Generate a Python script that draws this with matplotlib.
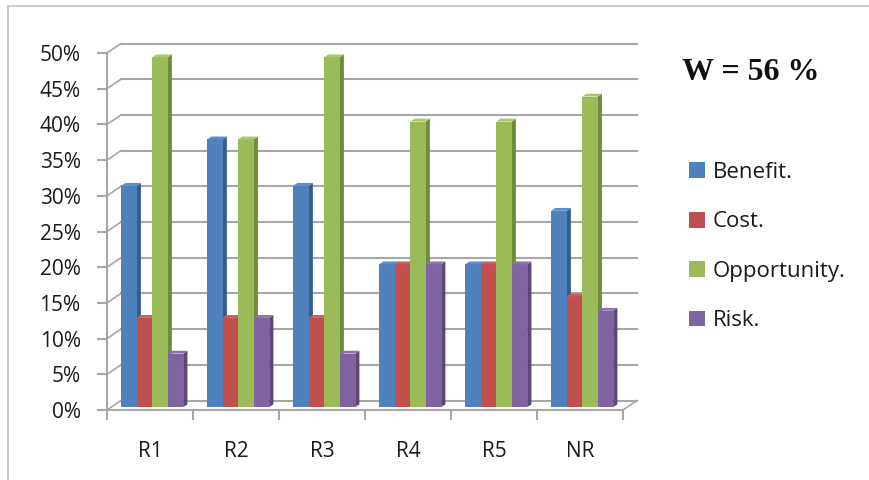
import matplotlib.pyplot as plt
from matplotlib.lines import Line2D
from matplotlib.patches import Patch

# Share of each criterion per alternative (%)
categories = ['R1', 'R2', 'R3', 'R4', 'R5', 'NR']
benefit = [31, 37.5, 31, 20, 20, 27.5]
cost = [12.5, 12.5, 12.5, 20, 20, 15.5]
opportunity = [49, 37.5, 49, 40, 40, 43.5]
risk = [7.5, 12.5, 7.5, 20, 20, 13.5]
series_names = ['Benefit.', 'Cost.', 'Opportunity.', 'Risk.']
y_ticks = [0, 5, 10, 15, 20, 25, 30, 35, 40, 45, 50]
weight_label = 'W = 56 %'

front_colors = ['#4f81bd', '#c0504d', '#9bbb59', '#8064a2']
side_colors = ['#385d8a', '#8c3836', '#6f8a3c', '#5c4776']
top_colors = ['#5a8ccb', '#cd5c59', '#a8c86a', '#8d72ae']
grid_color = '#a6a6a6'
text_color = '#1a1a1a'

W, H = 869, 480
fig = plt.figure(figsize=(W / 100, H / 100), dpi=100)
fig.patch.set_facecolor('white')

# front plot area in pixels: x 107..623, y 410 (0%) .. 53 (50%)
ax = fig.add_axes([107 / W, 1 - 410 / H, 516 / W, 357 / H])
ax.set_xlim(0, len(categories))
ax.set_ylim(0, 50)
ax.set_facecolor('none')

# depth of the fake 3D box, in data units
px_x = len(categories) / 516
px_y = 50 / 357
dx = 14 * px_x
dy = 9.5 * px_y

# back wall gridlines and the slanted connectors from the front axis
for v in y_ticks:
    ax.add_line(Line2D([dx, len(categories) + dx], [v + dy, v + dy],
                       color=grid_color, lw=1.5, clip_on=False, zorder=1))
    ax.add_line(Line2D([0, dx], [v, v + dy],
                       color=grid_color, lw=1.2, clip_on=False, zorder=1))
# right edge of the floor
ax.add_line(Line2D([len(categories), len(categories) + dx], [0, dy],
                   color=grid_color, lw=1.2, clip_on=False, zorder=1))

# bars: front face, right side and top
bar_w = 15.5 * px_x
d0, depth = 0.3, 0.3
all_series = [benefit, cost, opportunity, risk]
for i, cat in enumerate(categories):
    left0 = i + 0.5 - 2 * bar_w + d0 * dx - 2 * px_x
    base = d0 * dy
    for s, vals in enumerate(all_series):
        xl = left0 + s * bar_w
        xr = xl + bar_w
        top = vals[i] + base
        ox, oy = depth * dx, depth * dy
        ax.fill([xr, xr, xr + ox, xr + ox], [base, top, top + oy, base + oy],
                color=side_colors[s], lw=0, clip_on=False, zorder=3)
        ax.fill([xl, xr, xr, xl], [base, base, top, top],
                color=front_colors[s], lw=0, clip_on=False, zorder=3)
        ax.fill([xl, xr, xr + ox, xl + ox], [top, top, top + oy, top + oy],
                color=top_colors[s], lw=0, clip_on=False, zorder=3)

# front axes
for side in ['top', 'right']:
    ax.spines[side].set_visible(False)
for side in ['left', 'bottom']:
    ax.spines[side].set_color(grid_color)
    ax.spines[side].set_linewidth(1.5)

ax.set_yticks(y_ticks)
ax.set_yticklabels([f'{v}%' for v in y_ticks])
ax.tick_params(axis='y', length=7, width=1.5, color=grid_color, pad=12,
               labelsize=15, labelcolor=text_color)

ax.set_xticks(range(len(categories) + 1))
ax.set_xticklabels([])
ax.set_xticks([i + 0.5 for i in range(len(categories))], minor=True)
ax.set_xticklabels(categories, minor=True)
ax.tick_params(axis='x', which='major', length=7, width=1.5, color=grid_color)
ax.tick_params(axis='x', which='minor', length=0, pad=22,
               labelsize=15, labelcolor=text_color)

for lbl in ax.get_xticklabels(minor=True) + ax.get_yticklabels():
    lbl.set_fontfamily('Open Sans')

# legend
handles = [Patch(facecolor=c, edgecolor='none') for c in front_colors]
fig.legend(handles, series_names, loc='upper left',
           bbox_to_anchor=(689 / W, 1 - 162 / H), frameon=False,
           prop={'family': 'Open Sans', 'size': 16}, labelcolor=text_color,
           handlelength=0.72, handleheight=0.72, handletextpad=0.35,
           labelspacing=1.28, borderpad=0, borderaxespad=0)

fig.text(751 / W, 1 - 72 / H, weight_label, ha='center', va='center',
         fontfamily='Liberation Serif', fontweight='bold', fontsize=23,
         color='#111111')

# chart area border
fig.add_artist(Line2D([8 / W, 8 / W], [0, 1 - 5.5 / H], transform=fig.transFigure,
                      color='#c8c8c8', lw=1.3))
fig.add_artist(Line2D([8 / W, 1], [1 - 5.5 / H, 1 - 5.5 / H], transform=fig.transFigure,
                      color='#c8c8c8', lw=1.3))

fig.savefig('out.png', dpi=100)
